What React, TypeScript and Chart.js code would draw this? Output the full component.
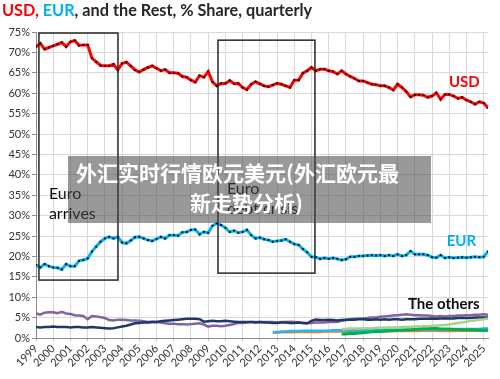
import React, { useEffect, useRef } from "react";
import { Chart, registerables } from "chart.js";
Chart.register(...registerables);

// ---- Data (quarterly, 1999Q1 = index 0) ----
const FIRST_YEAR = 1999;
const YEAR_TICKS = [1999, 2000, 2001, 2002, 2003, 2004, 2005, 2006, 2007, 2008, 2009, 2010, 2011, 2012, 2013, 2014, 2015, 2016, 2017, 2018, 2019, 2020, 2021, 2022, 2023, 2024, 2025];
const PCT_TICKS = [0, 5, 10, 15, 20, 25, 30, 35, 40, 45, 50, 55, 60, 65, 70, 75];

const USD = [
  71.4, 72.2, 70.8, 71.2, 71.6, 72.0, 72.4, 71.4, 72.6, 72.9,
  71.7, 71.8, 71.8, 68.6, 67.7, 66.8, 66.7, 66.7, 67.1, 65.7,
  67.3, 67.6, 66.7, 65.7, 65.2, 65.8, 66.3, 66.7, 66.1, 65.5,
  65.8, 65.0, 65.0, 64.9, 64.1, 63.9, 63.2, 62.7, 64.3, 63.9,
  65.3, 62.8, 61.8, 62.4, 62.4, 63.1, 62.3, 62.4, 61.4, 60.9,
  62.2, 62.8, 62.3, 61.8, 61.6, 62.0, 62.4, 62.2, 61.8, 61.4,
  63.2, 63.2, 64.9, 65.5, 66.3, 65.5, 65.9, 65.9, 65.5, 65.3,
  64.7, 65.5, 64.7, 64.1, 63.6, 63.0, 63.0, 62.6, 62.2, 62.1,
  61.8, 61.8, 61.4, 60.8, 62.2, 61.4, 60.4, 59.1, 59.6, 59.6,
  59.5, 59.0, 59.3, 60.1, 58.5, 59.7, 59.7, 59.3, 58.7, 59.0,
  58.3, 57.9, 57.3, 57.9, 57.6, 56.4,
];

const EUR = [
  17.9, 17.3, 18.1, 17.6, 17.3, 17.2, 16.8, 18.1, 17.6, 17.6,
  18.9, 19.1, 19.5, 21.2, 22.4, 23.6, 24.4, 24.8, 24.4, 24.8,
  23.4, 23.2, 23.9, 24.7, 24.8, 24.4, 24.0, 23.8, 24.3, 24.8,
  24.4, 25.2, 25.2, 25.1, 25.9, 26.0, 26.5, 26.6, 25.4, 26.0,
  25.8, 27.5, 28.1, 27.7, 27.0, 26.0, 26.3, 25.8, 26.0, 26.5,
  25.2, 24.4, 24.6, 24.2, 24.0, 23.6, 23.8, 23.9, 24.2, 23.6,
  23.0, 22.8, 21.8, 21.0, 19.9, 19.8, 19.4, 19.6, 19.4, 19.6,
  19.4, 19.1, 19.3, 19.9, 19.9, 20.1, 20.1, 20.2, 20.3, 20.2,
  20.3, 20.1, 20.3, 20.1, 20.5, 20.1, 20.3, 21.3, 20.5, 20.5,
  20.5, 20.3, 19.8, 19.7, 20.3, 19.6, 19.8, 19.6, 19.7, 19.8,
  19.7, 19.8, 19.9, 19.8, 19.9, 21.2,
];

const GBP = [
  2.7, 2.6, 2.7, 2.7, 2.8, 2.7, 2.7, 2.7, 2.6, 2.7,
  2.7, 2.6, 2.6, 2.7, 2.6, 2.5, 2.4, 2.3, 2.4, 2.6,
  2.8, 3.0, 3.3, 3.6, 3.7, 3.8, 3.8, 3.9, 3.9, 4.1,
  4.2, 4.3, 4.4, 4.5, 4.6, 4.7, 4.7, 4.7, 4.6, 4.0,
  4.1, 4.2, 4.1, 4.1, 4.2, 4.1, 4.0, 3.9, 3.9, 3.9,
  3.9, 3.8, 3.9, 3.8, 3.8, 3.7, 3.7, 3.8, 3.8, 3.7,
  3.7, 3.8, 3.7, 3.6, 4.2, 4.5, 4.4, 4.4, 4.5, 4.4,
  4.3, 4.4, 4.5, 4.5, 4.5, 4.6, 4.6, 4.5, 4.5, 4.6,
  4.5, 4.6, 4.5, 4.6, 4.6, 4.5, 4.6, 4.6, 4.6, 4.7,
  4.7, 4.7, 4.8, 4.7, 4.8, 4.8, 4.8, 4.8, 4.9, 4.9,
  4.9, 4.9, 5.0, 5.0, 5.0, 5.0,
];

const JPY = [
  6.0, 5.7, 6.2, 6.3, 6.3, 6.1, 6.4, 6.0, 5.9, 5.6,
  5.5, 5.4, 4.6, 5.4, 5.3, 5.1, 4.9, 4.4, 4.3, 4.5,
  4.5, 4.4, 4.3, 4.3, 4.2, 4.1, 3.9, 4.0, 3.9, 3.8,
  3.6, 3.5, 3.5, 3.4, 3.4, 3.3, 3.4, 3.5, 3.6, 3.3,
  2.8, 3.0, 3.0, 2.9, 3.0, 3.2, 3.4, 3.7, 3.7, 3.8,
  3.9, 3.9, 3.9, 3.9, 3.9, 3.9, 3.8, 3.9, 3.9, 4.0,
  3.9, 3.8, 3.7, 3.6, 3.7, 3.8, 3.8, 3.8, 3.9, 3.9,
  4.0, 4.2, 4.4, 4.6, 4.7, 4.7, 4.8, 4.9, 5.0, 5.0,
  5.2, 5.3, 5.4, 5.5, 5.6, 5.7, 5.8, 5.7, 5.6, 5.6,
  5.5, 5.5, 5.4, 5.3, 5.4, 5.3, 5.4, 5.4, 5.5, 5.5,
  5.6, 5.6, 5.7, 5.7, 5.8, 5.7,
];

// series that start later: index of first quarter
const CAD_START = 55;
const CAD = [
  1.4, 1.5, 1.6, 1.6, 1.7, 1.7, 1.7, 1.8, 1.8, 1.8,
  1.8, 1.8, 1.8, 1.8, 1.9, 1.9, 1.9, 1.9, 1.9, 1.9,
  1.9, 1.9, 1.9, 1.9, 1.9, 1.9, 2.0, 2.0, 2.0, 2.0,
  2.0, 2.0, 2.0, 2.1, 2.1, 2.1, 2.1, 2.1, 2.1, 2.1,
  2.1, 2.1, 2.2, 2.2, 2.2, 2.2, 2.2, 2.2, 2.2, 2.3,
  2.3,
];
const AUD_START = 55;
const AUD = [
  1.3, 1.3, 1.4, 1.4, 1.4, 1.4, 1.5, 1.5, 1.5, 1.5,
  1.5, 1.5, 1.6, 1.6, 1.6, 1.6, 1.6, 1.6, 1.6, 1.6,
  1.6, 1.6, 1.6, 1.6, 1.6, 1.6, 1.6, 1.7, 1.7, 1.7,
  1.7, 1.7, 1.7, 1.7, 1.7, 1.8, 1.8, 1.8, 1.8, 1.7,
  1.7, 1.7, 1.7, 1.8, 1.8, 1.8, 1.8, 1.8, 1.8, 1.8,
  1.8,
];
const CNY_START = 71;
const CNY = [
  1.0, 1.0, 1.1, 1.1, 1.2, 1.3, 1.4, 1.5, 1.6, 1.6,
  1.7, 1.8, 1.8, 1.9, 1.9, 2.0, 2.0, 2.1, 2.2, 2.3,
  2.3, 2.4, 2.3, 2.2, 2.2, 2.2, 2.1, 2.1, 2.0, 2.0,
  2.0, 2.0, 1.9, 1.9, 1.9,
];
const OTHER_START = 71;
const OTHER = [
  2.2, 2.2, 2.3, 2.3, 2.3, 2.4, 2.4, 2.4, 2.5, 2.5,
  2.5, 2.6, 2.6, 2.6, 2.7, 2.7, 2.7, 2.8, 2.8, 2.9,
  2.9, 3.0, 3.0, 3.1, 3.2, 3.3, 3.5, 3.7, 3.8, 4.0,
  4.2, 4.3, 4.5, 4.6, 4.8,
];

// Annotations in data coordinates (year, %)
const BOXES = [
  { x0: 1999.17, x1: 2003.76, y0: 14.2, y1: 74.75 },
  { x0: 2009.57, x1: 2015.2, y0: 15.9, y1: 73.0 },
];
const NOTES = [
  { text: "Euro", x: 1999.75, y: 34.1, color: "#0d0d0d", bold: false, size: 16 },
  { text: "arrives", x: 1999.75, y: 29.2, color: "#0d0d0d", bold: false, size: 16 },
  { text: "Euro", x: 2010.09, y: 35.3, color: "#0d0d0d", bold: false, size: 16 },
  { text: "debt crisis", x: 2010.09, y: 30.4, color: "#0d0d0d", bold: false, size: 16 },
  { text: "USD", x: 2022.98, y: 61.5, color: "#FF0000", bold: true, size: 15 },
  { text: "EUR", x: 2022.85, y: 22.5, color: "#00B0F0", bold: true, size: 15 },
  { text: "The others", x: 2020.6, y: 7.0, color: "#0d0d0d", bold: true, size: 15 },
];

const TITLE_PARTS = [
  { text: "USD,", color: "#FF0000" },
  { text: " EUR", color: "#00B0F0" },
  { text: ", and the Rest, % Share, quarterly", color: "#262626" },
];

const WATERMARK_LINES = ["外汇实时行情欧元美元(外汇欧元最", "新走势分析)"];

function toPoints(values: number[], start = 0) {
  return values.map((v, i) => ({ x: FIRST_YEAR + (start + i) / 4, y: v }));
}

const overlayPlugin = {
  id: "overlay",
  afterDatasetsDraw(chart: any) {
    const { ctx, scales } = chart;
    const xs = scales.x;
    const ys = scales.y;
    ctx.save();
    ctx.strokeStyle = "#262626";
    ctx.lineWidth = 1.5;
    BOXES.forEach((b) => {
      const l = xs.getPixelForValue(b.x0);
      const r = xs.getPixelForValue(b.x1);
      const t = ys.getPixelForValue(b.y1);
      const bt = ys.getPixelForValue(b.y0);
      ctx.strokeRect(l, t, r - l, bt - t);
    });
    ctx.textBaseline = "alphabetic";
    ctx.textAlign = "left";
    NOTES.forEach((n) => {
      ctx.font = (n.bold ? "bold " : "") + n.size + "px Lato";
      ctx.fillStyle = n.color;
      ctx.fillText(n.text, xs.getPixelForValue(n.x), ys.getPixelForValue(n.y));
    });
    ctx.restore();
  },
  afterDraw(chart: any) {
    const { ctx } = chart;
    ctx.save();
    const full = TITLE_PARTS.map((p) => p.text).join("");
    ctx.font = "bold 14px Lato";
    const w14 = ctx.measureText(full).width;
    const size = (14 * 310) / w14;
    ctx.font = `bold ${size.toFixed(2)}px Lato`;
    ctx.textBaseline = "alphabetic";
    let x = 2;
    TITLE_PARTS.forEach((p) => {
      ctx.fillStyle = p.color;
      ctx.fillText(p.text, x, 16);
      x += ctx.measureText(p.text).width;
    });
    ctx.restore();
  },
};

export default function App() {
  const ref = useRef<HTMLCanvasElement | null>(null);
  useEffect(() => {
    document.body.style.margin = "0";
    if (!ref.current) return;
    Chart.defaults.font.family = "Lato";
    const line = (label: string, data: any[], color: string, width: number, dots = false) => ({
      label,
      data,
      borderColor: color,
      backgroundColor: color,
      borderWidth: width,
      pointRadius: dots ? 1.3 : 0,
      pointBackgroundColor: "#000",
      pointBorderWidth: 0,
      pointStyle: "rect",
      tension: 0,
    });
    const chart = new Chart(ref.current, {
      type: "line",
      data: {
        datasets: [
          line("USD", toPoints(USD), "#FF0000", 3, true),
          line("EUR", toPoints(EUR), "#00B0F0", 3, true),
          line("Other", toPoints(OTHER, OTHER_START), "#A9D18E", 2.5),
          line("CNY", toPoints(CNY, CNY_START), "#00B050", 3),
          line("CAD", toPoints(CAD, CAD_START), "#1FB8F0", 2.5),
          line("AUD", toPoints(AUD, AUD_START), "#ED7D31", 2.5),
          line("GBP", toPoints(GBP), "#1F3864", 2.5),
          line("JPY", toPoints(JPY), "#8064A2", 2.5),
        ] as any,
      },
      options: {
        animation: false,
        responsive: false,
        maintainAspectRatio: false,
        layout: { padding: { top: 32, right: 12, left: 0, bottom: 0 } },
        plugins: { legend: { display: false }, tooltip: { enabled: false }, title: { display: false } },
        scales: {
          x: {
            type: "linear",
            min: FIRST_YEAR,
            max: 2025.25,
            afterBuildTicks: (s: any) => {
              s.ticks = YEAR_TICKS.map((v) => ({ value: v }));
            },
            afterFit: (s: any) => {
              s.height = 41;
            },
            ticks: {
              autoSkip: false,
              minRotation: 45,
              maxRotation: 45,
              padding: 1,
              color: "#333333",
              font: { size: 11, family: "Lato" },
              callback: (v: any) => String(v),
            },
            grid: { color: "#D9D9D9", lineWidth: 1, tickLength: 3, tickColor: "#BFBFBF" },
            border: { color: "#8C8C8C", width: 1 },
          },
          y: {
            min: 0,
            max: 75,
            afterBuildTicks: (s: any) => {
              s.ticks = PCT_TICKS.map((v) => ({ value: v }));
            },
            afterFit: (s: any) => {
              s.width = 36;
            },
            ticks: {
              padding: 2,
              color: "#333333",
              font: { size: 11, family: "Lato" },
              callback: (v: any) => v + "%",
            },
            grid: { color: "#D9D9D9", lineWidth: 1, tickLength: 4, tickColor: "#8C8C8C" },
            border: { color: "#8C8C8C", width: 1 },
          },
        },
      } as any,
      plugins: [overlayPlugin],
    });
    return () => chart.destroy();
  }, []);

  return (
    <div style={{ position: "relative", width: 500, height: 379, background: "#fff" }}>
      <canvas ref={ref} width={500} height={379} style={{ display: "block", width: 500, height: 379 }} />
      <div
        style={{
          position: "absolute",
          left: 68,
          top: 156,
          width: 363,
          height: 67,
          background: "rgba(70,70,70,0.55)",
          color: "#fff",
          fontFamily: "'Noto Sans CJK SC', sans-serif",
          fontWeight: 700,
          fontSize: 21,
          lineHeight: "30px",
          textAlign: "center",
          whiteSpace: "nowrap",
          paddingTop: 1,
          boxSizing: "border-box",
        }}
      >
        <div style={{ paddingRight: 24 }}>{WATERMARK_LINES[0]}</div>
        <div style={{ paddingRight: 6 }}>{WATERMARK_LINES[1]}</div>
      </div>
    </div>
  );
}
